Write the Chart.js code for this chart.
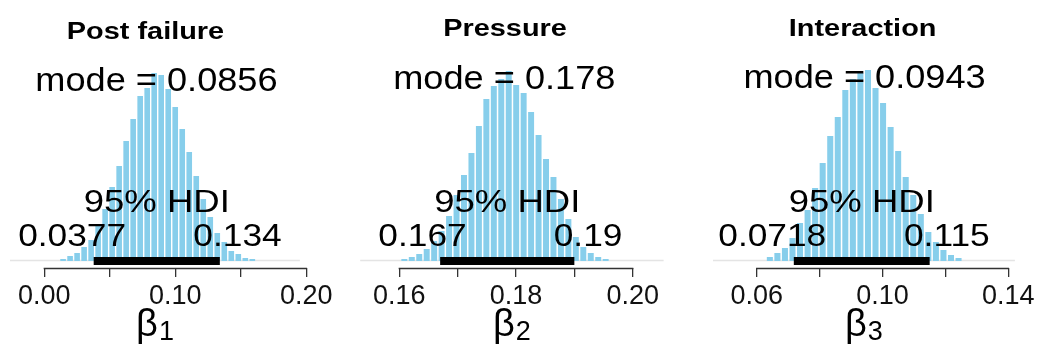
<!DOCTYPE html>
<html><head><meta charset="utf-8">
<script src="https://cdn.jsdelivr.net/npm/chart.js@4/dist/chart.umd.min.js"></script>
<style>
html,body{margin:0;padding:0;background:#fff;overflow:hidden;width:1037px;height:349px}
.panel{position:absolute;top:0}
canvas{display:block}
</style></head><body>
<div class="panel" style="left:0px"><canvas id="c1" width="345" height="349"></canvas></div>
<div class="panel" style="left:345px"><canvas id="c2" width="345" height="349"></canvas></div>
<div class="panel" style="left:690px"><canvas id="c3" width="360" height="349"></canvas></div>
<script>
// ---------- data ----------
const titles = ['Post failure', 'Pressure', 'Interaction'];
const xlabSubscripts = ['1', '2', '3'];

// Panel 1: beta_1 (Post failure)
const p1BinCenters = [0.01434,0.01969,0.02504,0.03039,0.03574,0.04109,0.04644,0.05179,0.05714,0.06249,0.06784,0.07319,0.07854,0.08389,0.08924,0.09459,0.09994,0.10529,0.11064,0.11599,0.12134,0.12669,0.13204,0.13739,0.14274,0.14809,0.15344,0.15879];
const p1Heights = [2,5,8,14,21,35,52,74,95,120,142,165,173,188,186,172,154,132,109,85,62,44,28,19,10,7,3,2];
const p1Mode = 0.0856;
const p1Hdi = [0.0377, 0.134];
const p1HdiLabels = ['0.0377', '0.134'];
const p1SampleRange = [-0.0262, 0.1951];
const p1Ticks = [0.00, 0.05, 0.10, 0.15, 0.20];
const p1TickLabels = ['0.00', '', '0.10', '', '0.20'];

// Panel 2: beta_2 (Pressure)
const p2BinCenters = [0.160862,0.162140,0.163418,0.164696,0.165974,0.167252,0.168530,0.169808,0.171086,0.172364,0.173642,0.174920,0.176198,0.177476,0.178754,0.180032,0.181310,0.182588,0.183866,0.185144,0.186422,0.187700,0.188978,0.190256,0.191534,0.192812,0.194090,0.195368];
const p2Heights = [2,4,7,12,20,30,45,66,86,108,135,162,175,182,190,176,168,149,126,102,84,62,42,24,14,8,4,2];
const p2Mode = 0.178;
const p2Hdi = [0.167, 0.19];
const p2HdiLabels = ['0.167', '0.19'];
const p2SampleRange = [0.1533, 0.2053];
const p2Ticks = [0.16, 0.17, 0.18, 0.19, 0.20];
const p2TickLabels = ['0.16', '', '0.18', '', '0.20'];

// Panel 3: beta_3 (Interaction)
const p3BinCenters = [0.06418,0.06658,0.06898,0.07138,0.07378,0.07618,0.07858,0.08098,0.08338,0.08578,0.08818,0.09058,0.09298,0.09538,0.09778,0.10018,0.10258,0.10498,0.10738,0.10978,0.11218,0.11458,0.11698,0.11938,0.12178,0.12418];
const p3Heights = [4,8,13,23,38,51,73,98,125,144,171,182,188,191,173,158,134,110,84,66,47,29,19,11,6,3];
const p3Mode = 0.0943;
const p3Hdi = [0.0718, 0.115];
const p3HdiLabels = ['0.0718', '0.115'];
const p3SampleRange = [0.0461, 0.1421];
const p3Ticks = [0.06, 0.08, 0.10, 0.12, 0.14];
const p3TickLabels = ['0.06', '', '0.10', '', '0.14'];

// ---------- drawing ----------
const FONT = '"Liberation Sans", Arial, Helvetica, sans-serif';

function drawText(ctx, txt, x, y, size, weight, sx, adj) {
  ctx.save();
  ctx.font = weight + ' ' + size + 'px ' + FONT;
  const w = ctx.measureText(txt).width * sx;
  ctx.translate(x - adj * w, y);
  ctx.scale(sx, 1);
  ctx.textAlign = 'left';
  ctx.textBaseline = 'alphabetic';
  ctx.fillStyle = '#000';
  ctx.fillText(txt, 0, 0);
  ctx.restore();
}

const annotPlugin = {
  id: 'annot',
  afterDatasetsDraw(chart, args, o) {
    const ctx = chart.ctx, xs = chart.scales.x, ys = chart.scales.y;
    const y0 = ys.getPixelForValue(0);
    // axis line from first to last tick (R style)
    const t = o.ticks, ay = chart.chartArea.bottom;
    ctx.save();
    ctx.strokeStyle = '#333'; ctx.lineWidth = 1.3;
    ctx.beginPath();
    ctx.moveTo(xs.getPixelForValue(t[0]) - 0.65, ay + 0.5);
    ctx.lineTo(xs.getPixelForValue(t[t.length - 1]) + 0.65, ay + 0.5);
    ctx.stroke();
    ctx.restore();
    // title
    drawText(ctx, o.title, o.titleX, o.titleY, 24.7, 'bold', 1.17, 0.5);
    // mode
    drawText(ctx, 'mode = ' + o.modeLabel, xs.getPixelForValue(o.mode),
      ys.getPixelForValue(0.9 * Math.max(...o.heights)) - 1, 32.6, 'normal', 1.11, 0.5);
    // HDI
    drawText(ctx, '95% HDI', xs.getPixelForValue((o.hdi[0] + o.hdi[1]) / 2), y0 - 49, 30.7, 'normal', 1.19, 0.5);
    drawText(ctx, o.hdiLabels[0], xs.getPixelForValue(o.hdi[0]), y0 - 15, 30.7, 'normal', 1.15, 0.7);
    drawText(ctx, o.hdiLabels[1], xs.getPixelForValue(o.hdi[1]), y0 - 15, 30.7, 'normal', 1.15, 0.3);
    // x label: beta with subscript
    ctx.save();
    ctx.fillStyle = '#000';
    ctx.textAlign = 'left'; ctx.textBaseline = 'alphabetic';
    ctx.font = '38px ' + FONT;
    const wb = ctx.measureText('\u03B2').width;
    ctx.font = '27px ' + FONT;
    const ws = ctx.measureText(o.sub).width;
    const gap = 1;
    const cx = xs.getPixelForValue(o.xlabCenter);
    const x0 = cx - (wb + gap + ws) / 2;
    ctx.font = '38px ' + FONT;
    ctx.fillText('\u03B2', x0, 336);
    ctx.font = '27px ' + FONT;
    ctx.fillText(o.sub, x0 + wb + gap, 340);
    ctx.restore();
  }
};

function makePanel(id, cfg) {
  const ctx = document.getElementById(id).getContext('2d');
  return new Chart(ctx, {
    type: 'bar',
    data: {
      datasets: [
        {
          type: 'line',
          data: cfg.range.map(v => ({ x: v, y: 0.6 })),
          borderColor: '#e4e4e4', borderWidth: 1.5, pointRadius: 0, order: 3
        },
        {
          type: 'bar',
          data: cfg.centers.map((c, i) => ({ x: c, y: cfg.heights[i] })),
          backgroundColor: '#87CEEB', borderWidth: 0,
          barPercentage: 0.8, categoryPercentage: 1.0, order: 2
        },
        {
          type: 'line',
          data: cfg.hdi.map(v => ({ x: v, y: 0 })),
          borderColor: '#000', borderWidth: 8, borderCapStyle: 'butt',
          pointRadius: 0, order: 0
        }
      ]
    },
    options: {
      responsive: false,
      devicePixelRatio: 1,
      animation: false,
      events: [],
      layout: { padding: { left: cfg.padL, right: cfg.padR, top: 51, bottom: 0 } },
      plugins: {
        legend: { display: false },
        tooltip: { enabled: false },
        title: { display: false },
        annot: {
          ticks: cfg.ticks, title: cfg.title, titleX: cfg.titleX, titleY: cfg.titleY,
          mode: cfg.mode, modeLabel: String(cfg.mode), heights: cfg.heights,
          hdi: cfg.hdi, hdiLabels: cfg.hdiLabels, sub: cfg.sub, xlabCenter: cfg.xlabCenter
        }
      },
      scales: {
        x: {
          type: 'linear', position: 'bottom', offset: false,
          min: cfg.xmin, max: cfg.xmax,
          afterBuildTicks: s => { s.ticks = cfg.ticks.map(v => ({ value: v })); },
          afterFit: s => { s.height = 81; },
          ticks: {
            autoSkip: false, maxRotation: 0, minRotation: 0, padding: 3,
            color: '#111', font: { family: FONT, size: 27 },
            callback: (v, i) => cfg.tickLabels[i]
          },
          grid: { display: true, offset: false, drawOnChartArea: false, drawTicks: true, tickLength: 9, color: '#333', lineWidth: 1.3 },
          border: { display: false }
        },
        y: { type: 'linear', display: false, min: -7, max: 210 }
      }
    },
    plugins: [annotPlugin]
  });
}

makePanel('c1', {
  centers: p1BinCenters, heights: p1Heights, mode: p1Mode, hdi: p1Hdi, hdiLabels: p1HdiLabels,
  range: p1SampleRange, ticks: p1Ticks, tickLabels: p1TickLabels, title: titles[0], sub: xlabSubscripts[0],
  xmin: -0.030763, xmax: 0.222672, padL: 4, padR: 9, titleX: 145.5, titleY: 39, xlabCenter: 0.0845
});
makePanel('c2', {
  centers: p2BinCenters, heights: p2Heights, mode: p2Mode, hdi: p2Hdi, hdiLabels: p2HdiLabels,
  range: p2SampleRange, ticks: p2Ticks, tickLabels: p2TickLabels, title: titles[1], sub: xlabSubscripts[1],
  xmin: 0.151894, xmax: 0.208449, padL: 7, padR: 8, titleX: 160, titleY: 36, xlabCenter: 0.1793
});
makePanel('c3', {
  centers: p3BinCenters, heights: p3Heights, mode: p3Mode, hdi: p3Hdi, hdiLabels: p3HdiLabels,
  range: p3SampleRange, ticks: p3Ticks, tickLabels: p3TickLabels, title: titles[2], sub: xlabSubscripts[2],
  xmin: 0.041018, xmax: 0.146900, padL: 7, padR: 20, titleX: 172.6, titleY: 36, xlabCenter: 0.0941
});
</script>
</body></html>
